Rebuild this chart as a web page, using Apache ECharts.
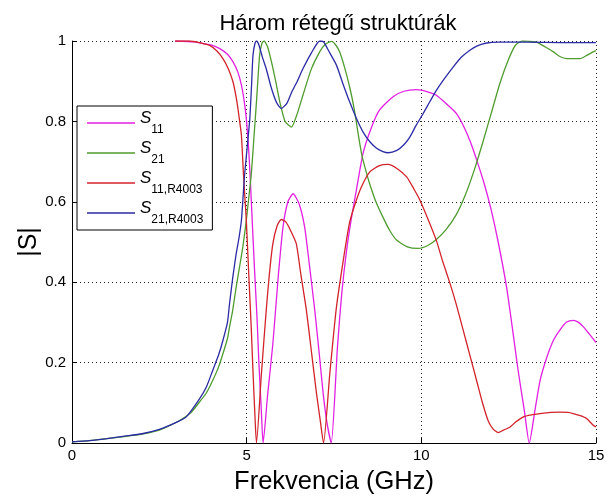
<!DOCTYPE html>
<html>
<head>
<meta charset="utf-8">
<script src="https://cdn.jsdelivr.net/npm/echarts@6/dist/echarts.min.js"></script>
<style>
  html, body { margin: 0; padding: 0; background: #fff; }
  #chart { width: 612px; height: 498px; }
</style>
</head>
<body>
<div id="chart"></div>
<script>
// tick labels
const xTicks = [0, 5, 10, 15];
const yTicks = [0, 0.2, 0.4, 0.6, 0.8, 1];

// S11
const s11Freq = [2.95, 3.5, 3.74, 4.0, 4.23, 4.45, 4.61, 4.75, 4.85, 4.93, 4.99, 5.05, 5.09, 5.15, 5.22, 5.3, 5.35, 5.42, 5.47,
  5.6, 5.75, 5.9, 6.04, 6.18, 6.33, 6.5, 6.66, 6.8, 6.95, 7.08, 7.19, 7.3, 7.42,
  7.6, 7.72, 7.86, 8.0, 8.14, 8.33, 8.55, 8.8, 9.2, 9.5, 9.86, 10.2, 10.43, 10.7, 11.0, 11.2, 11.4, 11.6, 11.8, 12.0, 12.2,
  12.44, 12.6, 12.77, 12.95, 13.09, 13.25, 13.4, 13.6, 13.78, 14.0, 14.16, 14.35, 14.5, 14.64, 14.8, 15];
const s11Vals = [1.0, 0.998, 0.994, 0.99, 0.981, 0.967, 0.948, 0.922, 0.89, 0.85, 0.807, 0.74, 0.68, 0.57, 0.44, 0.305, 0.2, 0.08, 0.0,
  0.12, 0.247, 0.41, 0.537, 0.6, 0.62, 0.595, 0.537, 0.44, 0.33, 0.22, 0.123, 0.05, 0.0,
  0.24, 0.37, 0.479, 0.56, 0.629, 0.72, 0.78, 0.828, 0.862, 0.875, 0.879, 0.873, 0.865, 0.845, 0.82, 0.79, 0.75, 0.70, 0.645, 0.58, 0.5,
  0.388, 0.29, 0.181, 0.08, 0.0, 0.08, 0.156, 0.215, 0.255, 0.285, 0.301, 0.305, 0.3, 0.289, 0.272, 0.25];

// S21
const s21Freq = [0, 0.5, 1, 1.5, 2, 2.5, 3.08, 3.4, 3.65, 3.85, 4.03, 4.2, 4.32, 4.45, 4.51, 4.6, 4.7, 4.8, 4.89, 4.99,
  5.06, 5.13, 5.2, 5.28, 5.37, 5.44, 5.5, 5.6, 5.71, 5.83, 5.95, 6.1, 6.28, 6.45, 6.61, 6.85, 7.09, 7.25, 7.43, 7.55, 7.66,
  7.8, 7.95, 8.08, 8.19, 8.3, 8.43, 8.52, 8.7, 8.91, 9.1, 9.29, 9.6, 9.91, 10.2, 10.43, 10.7, 11.0, 11.25, 11.5, 11.75,
  12.0, 12.25, 12.5, 12.7, 12.9, 13.1, 13.3, 13.55, 13.78, 13.95, 14.16, 14.54, 14.75, 14.92, 15];
const s21Vals = [0.003, 0.006, 0.011, 0.016, 0.022, 0.032, 0.056, 0.075, 0.102, 0.125, 0.156, 0.19, 0.222, 0.26, 0.289, 0.33, 0.388, 0.44, 0.488, 0.554,
  0.61, 0.666, 0.75, 0.848, 0.964, 0.995, 1.0, 0.985, 0.948, 0.9, 0.848, 0.8, 0.786, 0.82, 0.865, 0.93, 0.973, 0.992, 0.999, 0.99, 0.973,
  0.935, 0.885, 0.83, 0.77, 0.715, 0.672, 0.645, 0.6, 0.56, 0.528, 0.505, 0.488, 0.484, 0.492, 0.506, 0.53, 0.568, 0.615, 0.675, 0.745,
  0.82, 0.895, 0.955, 0.99, 1.0, 0.999, 0.997, 0.985, 0.973, 0.962, 0.956, 0.956, 0.965, 0.973, 0.976];

// S11,R4003
const s11rFreq = [2.95, 3.37, 3.7, 3.94, 4.15, 4.32, 4.48, 4.61, 4.7, 4.75, 4.8, 4.85, 4.91, 4.95, 4.99, 5.06, 5.13, 5.18, 5.23, 5.28,
  5.42, 5.56, 5.65, 5.75, 5.87, 5.99, 6.12, 6.25, 6.42, 6.55, 6.71, 6.85, 7.0, 7.1, 7.2,
  7.38, 7.57, 7.81, 7.95, 8.14, 8.3, 8.52, 8.8, 9.05, 9.3, 9.58, 9.8, 9.96, 10.2, 10.43, 10.6, 10.82, 11.0, 11.2, 11.4, 11.58,
  11.75, 11.91, 12.05, 12.2, 12.35, 12.54, 12.7, 12.92, 13.15, 13.4, 13.7, 13.97, 14.2, 14.35, 14.55, 14.73, 14.92, 15];
const s11rVals = [1.0, 1.0, 0.995, 0.989, 0.975, 0.956, 0.93, 0.898, 0.86, 0.832, 0.8, 0.765, 0.666, 0.61, 0.554, 0.42, 0.289, 0.18, 0.081, 0.0,
  0.17, 0.33, 0.42, 0.496, 0.54, 0.556, 0.55, 0.53, 0.496, 0.42, 0.33, 0.23, 0.123, 0.06, 0.0,
  0.173, 0.338, 0.479, 0.55, 0.604, 0.64, 0.674, 0.69, 0.693, 0.683, 0.662, 0.63, 0.604, 0.555, 0.504, 0.455, 0.397, 0.345, 0.28, 0.215, 0.156,
  0.1, 0.056, 0.035, 0.026, 0.032, 0.04, 0.052, 0.065, 0.07, 0.073, 0.076, 0.077, 0.076, 0.073, 0.068, 0.061, 0.044, 0.04];

// S21,R4003
const s21rFreq = [0, 0.5, 1, 1.5, 2, 2.5, 3.0, 3.27, 3.65, 3.85, 4.03, 4.2, 4.32, 4.45, 4.51, 4.6, 4.7, 4.78, 4.85, 4.94,
  5.02, 5.09, 5.14, 5.18, 5.24, 5.28, 5.35, 5.45, 5.56, 5.7, 5.85, 5.99, 6.15, 6.3, 6.45, 6.61, 6.85, 7.09, 7.2, 7.35, 7.57,
  7.75, 7.95, 8.15, 8.33, 8.52, 8.72, 8.9, 9.05, 9.3, 9.5, 9.67, 9.85, 10.05, 10.25, 10.43, 10.65, 10.91, 11.15, 11.39, 11.6,
  11.87, 12.2, 13, 14, 15];
const s21rVals = [0.003, 0.006, 0.011, 0.017, 0.023, 0.034, 0.052, 0.065, 0.11, 0.14, 0.181, 0.22, 0.255, 0.3, 0.347, 0.41, 0.471, 0.51, 0.554, 0.666,
  0.74, 0.807, 0.89, 0.964, 0.995, 1.0, 0.99, 0.96, 0.931, 0.885, 0.848, 0.832, 0.845, 0.875, 0.9, 0.931, 0.97, 1.0, 0.998, 0.975, 0.94,
  0.895, 0.848, 0.806, 0.774, 0.75, 0.733, 0.725, 0.722, 0.728, 0.742, 0.761, 0.79, 0.819, 0.85, 0.877, 0.905, 0.935, 0.96, 0.977, 0.988,
  0.995, 0.997, 0.997, 0.996, 0.996];

const seriesNames = ['S11', 'S21', 'S11,R4003', 'S21,R4003'];
const seriesColors = ['#e21fe2', '#4f9c2e', '#d3232a', '#2b2ba6'];

const zip = (xs, ys) => xs.map((x, i) => [x, ys[i]]);
const seriesData = [
  zip(s11Freq, s11Vals),
  zip(s21Freq, s21Vals),
  zip(s11rFreq, s11rVals),
  zip(s21rFreq, s21rVals)
];

const FONT = 'Liberation Sans';
const chart = echarts.init(document.getElementById('chart'));

const option = {
  backgroundColor: '#fff',
  animation: false,
  title: {
    text: 'Három rétegű struktúrák',
    left: 333,
    textAlign: 'center',
    top: 8,
    textStyle: { fontFamily: FONT, fontSize: 22, fontWeight: 'normal', color: '#000' }
  },
  legend: {
    orient: 'vertical',
    left: 77,
    top: 106,
    data: seriesNames,
    icon: 'rect',
    padding: [4, 9, 4, 10],
    itemGap: 4,
    itemWidth: 48,
    itemHeight: 1.3,
    backgroundColor: '#fff',
    borderColor: '#000',
    borderWidth: 1,
    borderRadius: 0,
    selectedMode: false,
    formatter: name => '{s|S}{sub|' + name.slice(1) + '}',
    textStyle: {
      fontFamily: FONT,
      color: '#000',
      rich: {
        s: { fontFamily: FONT, fontStyle: 'italic', fontSize: 17, lineHeight: 26, verticalAlign: 'top', color: '#000' },
        sub: { fontFamily: FONT, fontSize: 12, lineHeight: 11, verticalAlign: 'bottom', color: '#000' }
      }
    }
  },
  grid: { left: 72, right: 16, top: 41, bottom: 55, outerBoundsMode: 'none' },
  xAxis: {
    type: 'value',
    min: xTicks[0],
    max: xTicks[xTicks.length - 1],
    interval: 5,
    name: 'Frekvencia (GHz)',
    nameLocation: 'middle',
    nameGap: 26,
    nameMoveOverlap: false,
    nameTextStyle: { fontFamily: FONT, fontSize: 25.5, color: '#000' },
    axisLine: { lineStyle: { color: '#000', width: 1 } },
    axisTick: { inside: true, length: 5, lineStyle: { color: '#000' } },
    axisLabel: { fontFamily: FONT, fontSize: 15, color: '#000', margin: 5 },
    splitLine: { show: true, lineStyle: { color: '#222', type: [1, 3], width: 1 } }
  },
  yAxis: {
    type: 'value',
    min: yTicks[0],
    max: yTicks[yTicks.length - 1],
    interval: 0.2,
    name: '|S|',
    nameLocation: 'middle',
    nameGap: 30,
    nameMoveOverlap: false,
    nameTextStyle: { fontFamily: FONT, fontSize: 25, color: '#000' },
    axisLine: { show: true, lineStyle: { color: '#000', width: 1 } },
    axisTick: { show: true, inside: true, length: 5, lineStyle: { color: '#000' } },
    axisLabel: { fontFamily: FONT, fontSize: 15, color: '#000', margin: 6 },
    splitLine: { show: true, lineStyle: { color: '#222', type: [1, 3], width: 1 } }
  },
  series: seriesNames.map((name, i) => ({
    name: name,
    type: 'line',
    data: seriesData[i],
    symbol: 'none',
    smooth: 0.2,
    color: seriesColors[i],
    lineStyle: { width: 1.3, color: seriesColors[i] }
  }))
};

chart.setOption(option);
</script>
</body>
</html>
